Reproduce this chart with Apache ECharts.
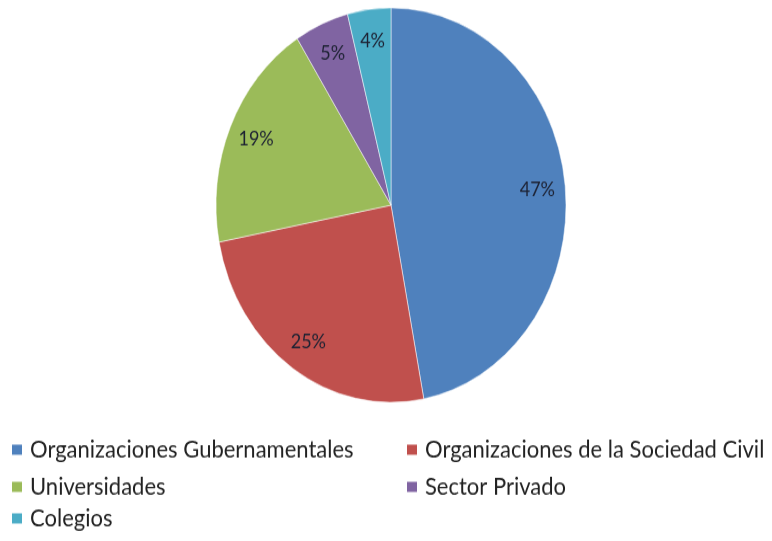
<!DOCTYPE html>
<html>
<head>
<meta charset="utf-8">
<script src="https://cdn.jsdelivr.net/npm/echarts@6/dist/echarts.min.js"></script>
<style>
    html, body { margin: 0; padding: 0; background: #fff; width: 772px; height: 541px; overflow: hidden; }
    #wrap { width: 772px; height: 541px; position: relative; }
    #chart {
        position: absolute;
        left: 0;
        top: 0;
        width: 772px;
        height: 480px;
        transform: scaleY(1.127);
        transform-origin: 0 0;
    }
</style>
</head>
<body>
<div id="wrap"><div id="chart"></div></div>
<script>
    // datos del grafico
    var categories = ['Organizaciones Gubernamentales', 'Organizaciones de la Sociedad Civil', 'Universidades', 'Sector Privado', 'Colegios'];
    var values = [47, 25, 19, 5, 4];
    var colors = ['#4f81bd', '#c0504d', '#9bbb59', '#8064a2', '#4bacc6'];

    var pieData = categories.map(function (name, i) {
        return { name: name, value: values[i] };
    });

    var font = 'Lato';

    // una leyenda por fila, dos columnas como en Excel
    function legendItem(name, left, top) {
        return {
            orient: 'horizontal',
            left: left,
            top: top,
            padding: 0,
            itemWidth: 12,
            itemHeight: 11,
            icon: 'rect',
            selectedMode: false,
            data: [name],
            textStyle: {
                fontFamily: font,
                fontSize: 22,
                lineHeight: 22,
                color: '#222',
                padding: [0, 0, 0, 2]
            }
        };
    }

    var myChart = echarts.init(document.getElementById('chart'));
    var option = {
        animation: false,
        color: colors,
        legend: [
            legendItem(categories[0], 10, 388),
            legendItem(categories[1], 405, 388),
            legendItem(categories[2], 10, 421),
            legendItem(categories[3], 405, 421),
            legendItem(categories[4], 10, 449)
        ],
        series: [
            {
                name: 'pie',
                type: 'pie',
                center: [391, 182],
                radius: [0, 175],
                startAngle: 90,
                clockwise: true,
                label: { show: false },
                labelLine: { show: false },
                itemStyle: { borderColor: '#fff', borderWidth: 0.5 },
                data: pieData
            },
            {
                // capa transparente solo para colocar las etiquetas cerca del borde
                name: 'labels',
                type: 'pie',
                center: [391, 182],
                radius: [113, 175],
                startAngle: 90,
                clockwise: true,
                silent: true,
                itemStyle: { color: 'transparent', borderWidth: 0 },
                label: {
                    show: true,
                    position: 'inside',
                    formatter: '{c}%',
                    fontFamily: font,
                    fontSize: 18,
                    color: '#1d2233'
                },
                labelLine: { show: false },
                data: pieData
            }
        ]
    };
    myChart.setOption(option);
</script>
</body>
</html>
